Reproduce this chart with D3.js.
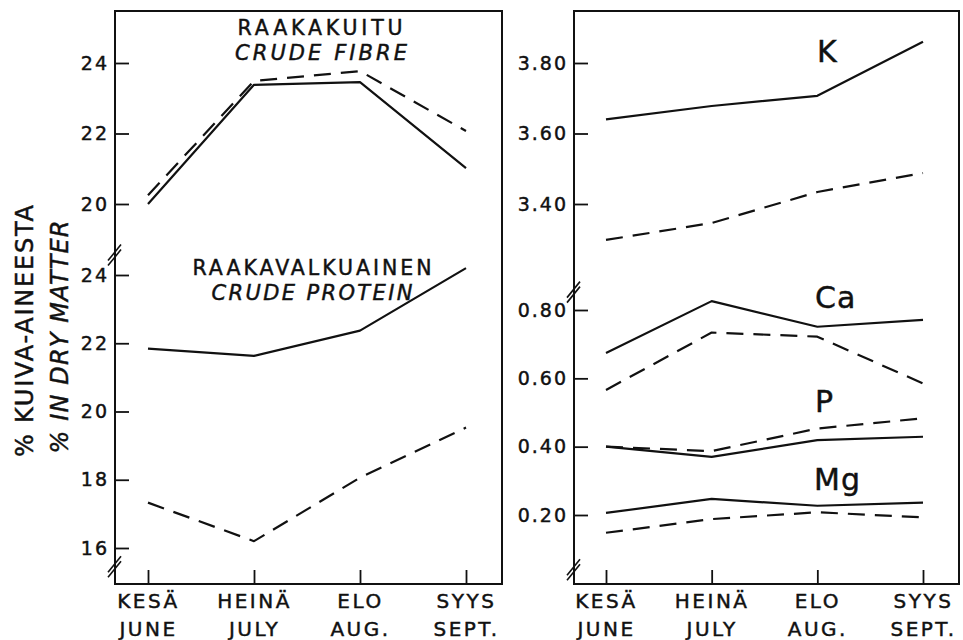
<!DOCTYPE html>
<html>
<head>
<meta charset="utf-8">
<script src="https://cdn.jsdelivr.net/npm/d3@7"></script>
<style>
  html, body { margin: 0; padding: 0; background: #fff; }
  svg text { font-family: "DejaVu Sans", "Liberation Sans", Arial, sans-serif; fill: #111; stroke: #111; stroke-width: 0.45px; }
</style>
</head>
<body>
<svg id="chart" width="963" height="640"></svg>
<script>
// Months (Finnish / English)
const monthsFi = ["KESÄ", "HEINÄ", "ELO", "SYYS"];
const monthsEn = ["JUNE", "JULY", "AUG.", "SEPT."];

// Left panel: crude fibre and crude protein, % in dry matter
const fibreSolid    = [20.0, 23.38, 23.46, 21.02];
const fibreDashed   = [20.25, 23.49, 23.77, 22.07];
const proteinSolid  = [21.84, 21.63, 22.37, 24.2];
const proteinDashed = [17.33, 16.2, 18.06, 19.53];

// Right panel: minerals, % in dry matter
const kSolid   = [3.64, 3.678, 3.707, 3.86];
const kDashed  = [3.298, 3.346, 3.434, 3.488];
const caSolid  = [0.674, 0.826, 0.751, 0.771];
const caDashed = [0.566, 0.734, 0.722, 0.585];
const pSolid   = [0.40, 0.370, 0.419, 0.429];
const pDashed  = [0.40, 0.387, 0.453, 0.483];
const mgSolid  = [0.206, 0.247, 0.227, 0.236];
const mgDashed = [0.148, 0.188, 0.208, 0.193];

// Tick values
const fibreTicks   = [20, 22, 24];
const proteinTicks = [16, 18, 20, 22, 24];
const kTicks       = [3.40, 3.60, 3.80];
const mineralTicks = [0.20, 0.40, 0.60, 0.80];

const svg = d3.select("#chart");
const INK = "#111";

// Panel frames
const left  = { x0: 115, x1: 502, y0: 11, y1: 584 };
const right = { x0: 574, x1: 959, y0: 11, y1: 584 };

// Scales
const xLeft  = d3.scalePoint().domain(monthsFi).range([148, 466]);
const xRight = d3.scalePoint().domain(monthsFi).range([606, 923]);
const yFibre   = d3.scaleLinear().domain([20, 24]).range([204, 63]);
const yProtein = d3.scaleLinear().domain([16, 24]).range([548, 275]);
const yK       = d3.scaleLinear().domain([3.40, 3.80]).range([204, 63]);
const yMineral = d3.scaleLinear().domain([0.20, 0.80]).range([515, 310]);

function frame(p) {
  svg.append("rect")
    .attr("x", p.x0).attr("y", p.y0)
    .attr("width", p.x1 - p.x0).attr("height", p.y1 - p.y0)
    .attr("fill", "none").attr("stroke", INK).attr("stroke-width", 2);
}
frame(left);
frame(right);

// Inward y ticks with labels outside the frame
function yAxis(scale, ticks, xPos, fmt) {
  const g = svg.append("g")
    .attr("transform", `translate(${xPos},0)`)
    .call(d3.axisLeft(scale).tickValues(ticks).tickSize(-14).tickPadding(6).tickFormat(fmt));
  g.select(".domain").remove();
  g.selectAll(".tick line").attr("stroke", INK).attr("stroke-width", 1.8);
  g.selectAll(".tick text")
    .attr("font-size", 19).attr("letter-spacing", 2)
    .attr("font-family", "DejaVu Sans, Liberation Sans, Arial, sans-serif")
    .attr("fill", INK);
}
yAxis(yFibre, fibreTicks, left.x0, d3.format("d"));
yAxis(yProtein, proteinTicks, left.x0, d3.format("d"));
yAxis(yK, kTicks, right.x0, d3.format(".2f"));
yAxis(yMineral, mineralTicks, right.x0, d3.format(".2f"));

// Month axis: inward ticks, two-line labels
function xAxis(scale, yPos) {
  const g = svg.append("g")
    .attr("transform", `translate(0,${yPos})`)
    .call(d3.axisBottom(scale).tickSize(-14).tickFormat(""));
  g.select(".domain").remove();
  g.selectAll(".tick line").attr("stroke", INK).attr("stroke-width", 1.8);
  g.selectAll(".tick").each(function (d, i) {
    const t = d3.select(this);
    t.append("text").text(monthsFi[i])
      .attr("y", 24).attr("text-anchor", "middle")
      .attr("font-size", 20).attr("letter-spacing", 2.5).attr("fill", INK);
    t.append("text").text(monthsEn[i])
      .attr("y", 52).attr("text-anchor", "middle")
      .attr("font-size", 20).attr("letter-spacing", 2.5).attr("fill", INK);
  });
}
xAxis(xLeft, left.y1);
xAxis(xRight, right.y1);

// Axis break marks (double slash across the y axis)
function breakMark(xAx, yc) {
  [-2.5, 2.5].forEach(off => {
    svg.append("line")
      .attr("x1", xAx - 7).attr("y1", yc + 8 + off)
      .attr("x2", xAx + 6).attr("y2", yc - 8 + off)
      .attr("stroke", INK).attr("stroke-width", 1.6);
  });
}
breakMark(left.x0, yFibre(18.55));
breakMark(left.x0, yProtein(15.45));
breakMark(right.x0, yK(3.15));
breakMark(right.x0, yMineral(0.04));

// Series lines
function series(xs, ys, values, dashed) {
  const line = d3.line()
    .x((d, i) => xs(monthsFi[i]))
    .y(d => ys(d));
  svg.append("path")
    .datum(values)
    .attr("d", line)
    .attr("fill", "none")
    .attr("stroke", INK)
    .attr("stroke-width", 2.2)
    .attr("stroke-linejoin", "round")
    .attr("stroke-dasharray", dashed ? "17,10" : null);
}
series(xLeft, yFibre, fibreSolid, false);
series(xLeft, yFibre, fibreDashed, true);
series(xLeft, yProtein, proteinSolid, false);
series(xLeft, yProtein, proteinDashed, true);
series(xRight, yK, kSolid, false);
series(xRight, yK, kDashed, true);
series(xRight, yMineral, caSolid, false);
series(xRight, yMineral, caDashed, true);
series(xRight, yMineral, pSolid, false);
series(xRight, yMineral, pDashed, true);
series(xRight, yMineral, mgSolid, false);
series(xRight, yMineral, mgDashed, true);

// Panel titles
function label(txt, x, y, size, len, italic) {
  svg.append("text").text(txt)
    .attr("x", x).attr("y", y)
    .attr("text-anchor", "middle")
    .attr("font-size", size)
    .attr("font-style", italic ? "italic" : "normal")
    .attr("textLength", len).attr("lengthAdjust", "spacing")
    .attr("fill", INK);
}
label("RAAKAKUITU", 320, 35, 20.5, 165, false);
label("CRUDE FIBRE", 321, 60, 21, 172, true);
label("RAAKAVALKUAINEN", 312, 275, 20.5, 239, false);
label("CRUDE PROTEIN", 312, 300, 21, 201, true);

// Element names
function elem(txt, x, y) {
  svg.append("text").text(txt)
    .attr("x", x).attr("y", y)
    .attr("font-size", 30).attr("letter-spacing", 1)
    .attr("fill", INK);
}
elem("K", 817, 62);
elem("Ca", 815, 308);
elem("P", 815, 412);
elem("Mg", 814, 490);

// Y axis titles
svg.append("text").text("% KUIVA-AINEESTA")
  .attr("transform", "translate(33,331) rotate(-90)")
  .attr("text-anchor", "middle").attr("font-size", 24)
  .attr("textLength", 252).attr("lengthAdjust", "spacing")
  .attr("fill", INK);
svg.append("text").text("% IN DRY MATTER")
  .attr("transform", "translate(68,337) rotate(-90)")
  .attr("text-anchor", "middle").attr("font-size", 24)
  .attr("font-style", "italic")
  .attr("textLength", 233).attr("lengthAdjust", "spacing")
  .attr("fill", INK);
</script>
</body>
</html>
